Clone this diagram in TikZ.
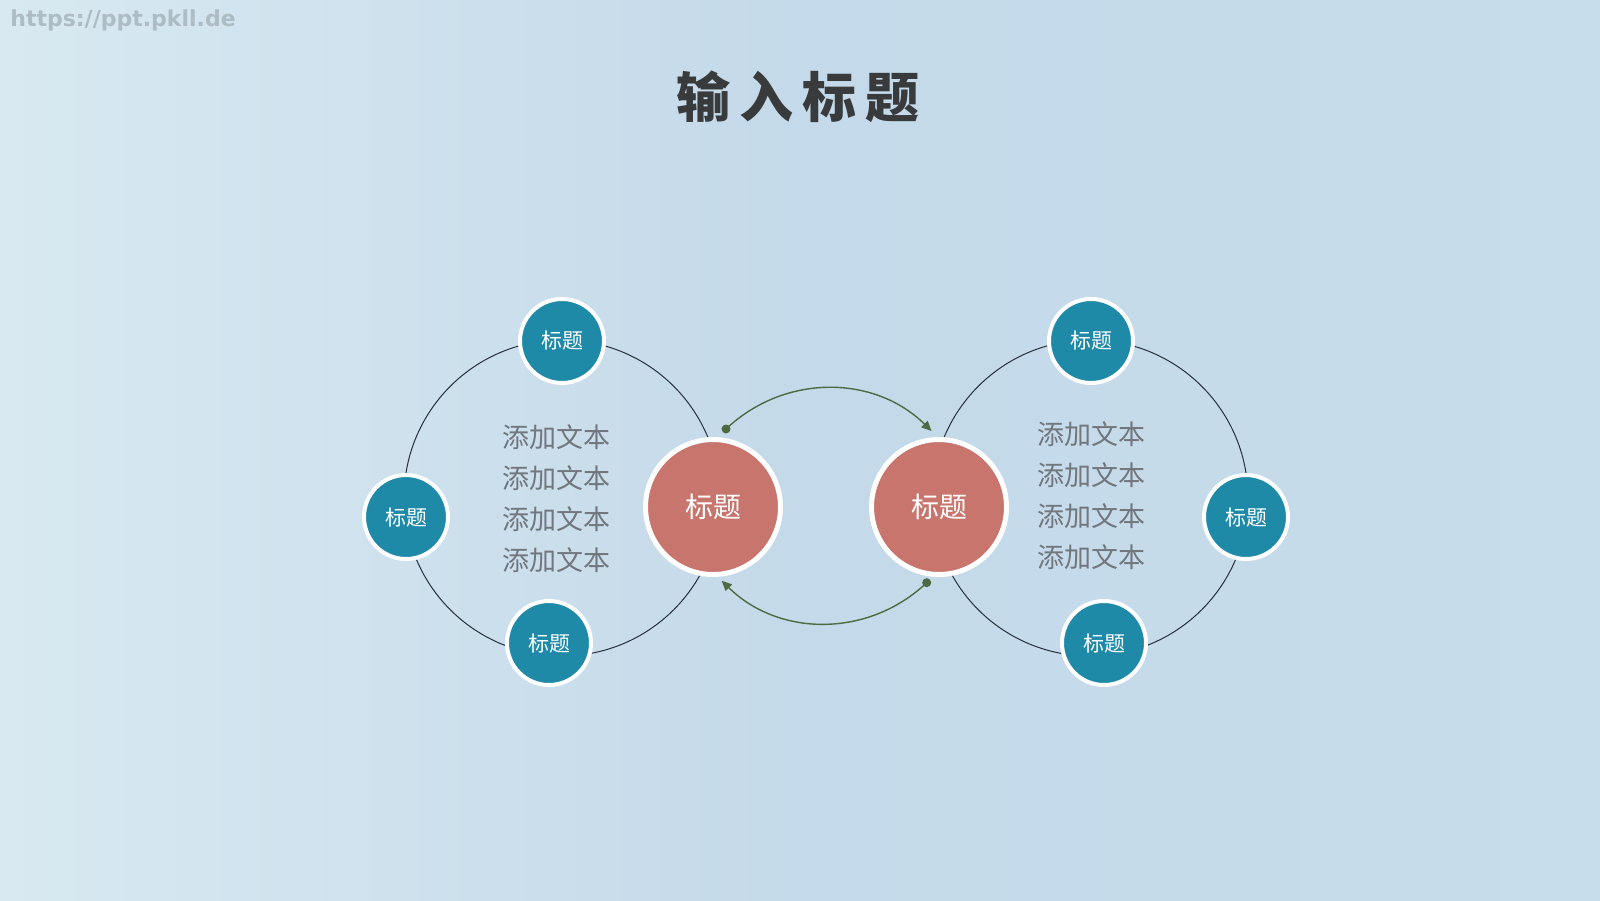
\documentclass[tikz,border=0pt]{standalone}
\usepackage{fontspec}
\newfontfamily\cjk{Noto Sans CJK SC}
\newfontfamily\wmfont{DejaVu Sans}
\usetikzlibrary{arrows.meta}
\definecolor{bgL}{HTML}{D8E9F1}
\definecolor{bgM}{HTML}{C4D9E9}
\definecolor{bgR}{HTML}{C7DDEB}
\definecolor{teal}{HTML}{1E8AA8}
\definecolor{coral}{HTML}{C8756E}
\definecolor{olive}{HTML}{4E6A42}
\definecolor{ringcol}{HTML}{27303C}
\definecolor{graytext}{HTML}{72767D}
\definecolor{titlecol}{HTML}{383A3C}
\definecolor{wmcol}{HTML}{AEBCC4}
\tikzset{
  ringbox/.style={circle, draw=ringcol, line width=0.5pt, minimum size=158pt, inner sep=0pt},
  smallc/.style={circle, fill=teal, draw=white, line width=2pt, minimum size=42pt, inner sep=0pt,
                 text=white, font=\cjk\fontsize{10.5}{10.5}\selectfont},
  bigc/.style={circle, fill=coral, draw=white, line width=2.5pt, minimum size=67.5pt, inner sep=0pt,
               text=white, font=\cjk\fontsize{14}{14}\selectfont},
  bodytext/.style={align=center, text=graytext, inner sep=0pt,
                   font=\cjk\fontsize{13.5}{20.5}\selectfont},
  dotnode/.style={circle, fill=olive, inner sep=0pt, minimum size=4.5pt},
  flow/.style={draw=olive, line width=0.7pt, -{Triangle[length=5pt,width=4.5pt]}, bend left=44},
}
\begin{document}
\begin{tikzpicture}[x=0.5pt, y=0.5pt]
\useasboundingbox (0,0) rectangle (1600,-900);
\shade[left color=bgL, right color=bgR, middle color=bgM] (0,0) rectangle (1600,-900);

\node[anchor=west, inner sep=0pt, text=wmcol, font=\wmfont\bfseries\fontsize{11}{11}\selectfont] (wm) at (10,-20) {https://ppt.pkll.de};

\node[inner sep=0pt, text=titlecol, font=\cjk\bfseries\fontsize{27}{27}\selectfont] (title) at (798,-97) {输\hspace{4.5pt}入\hspace{4.5pt}标\hspace{4.5pt}题};

% rings
\node[ringbox] (ringL) at (562,-498) {};
\node[ringbox] (ringR) at (1090,-498) {};

% left group
\node[smallc] (lt) at (562,-341) {标题};
\node[smallc] (ll) at (406,-517) {标题};
\node[smallc] (lb) at (549,-643) {标题};
\node[bigc] (redL) at (713,-507) {标题};
\node[bodytext] (txtL) at (556,-499) {添加文本\\添加文本\\添加文本\\添加文本};

% right group
\node[smallc] (rt) at (1091,-341) {标题};
\node[smallc] (rr) at (1246,-517) {标题};
\node[smallc] (rb) at (1104,-643) {标题};
\node[bigc] (redR) at (939,-507) {标题};
\node[bodytext] (txtR) at (1091,-496) {添加文本\\添加文本\\添加文本\\添加文本};

% flow arrows
\node[dotnode] (d1) at (726,-429) {};
\coordinate (a1) at (931.5,-431);
\node[dotnode] (d2) at (926.7,-582.7) {};
\coordinate (a2) at (721.7,-580.7);
\draw[flow] (d1.center) to (a1);
\draw[flow] (d2.center) to (a2);
\end{tikzpicture}
\end{document}
